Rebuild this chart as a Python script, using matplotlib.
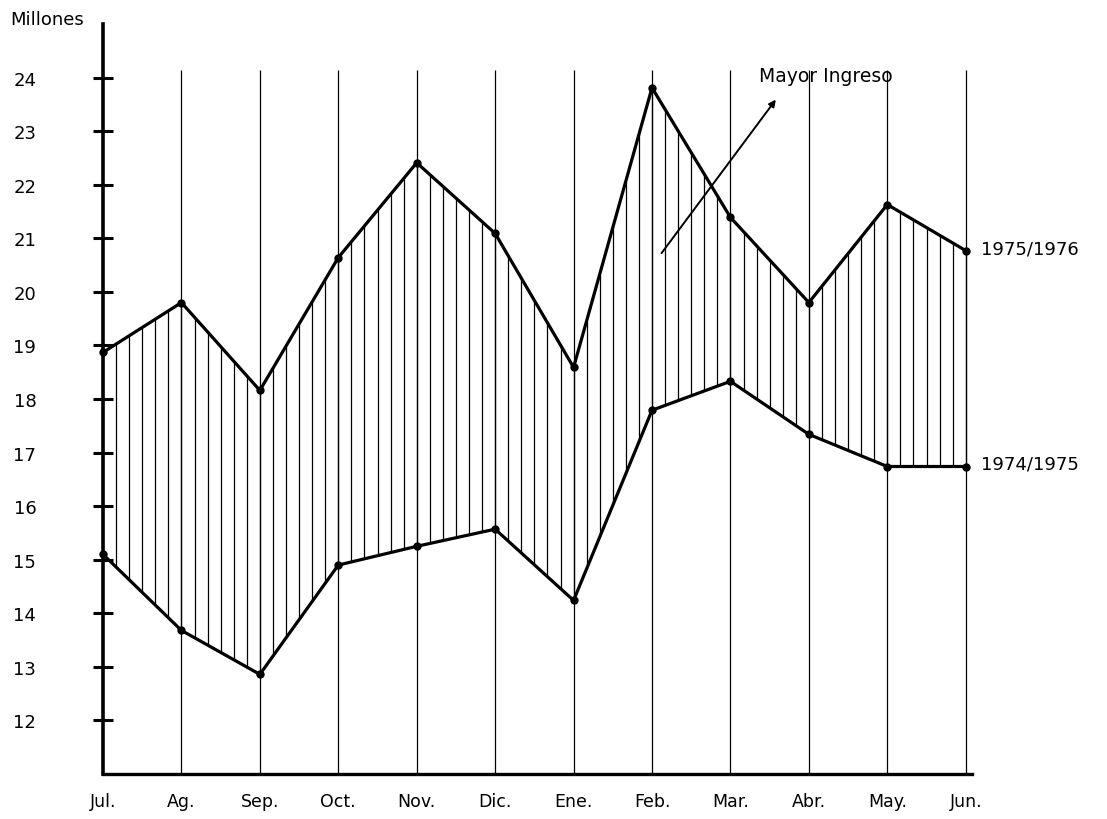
import numpy as np
import matplotlib.pyplot as plt

# Ingresos mensuales (millones)
meses = ['Jul.', 'Ag.', 'Sep.', 'Oct.', 'Nov.', 'Dic.', 'Ene.', 'Feb.', 'Mar.', 'Abr.', 'May.', 'Jun.']
ingreso_7576 = [18.87, 19.80, 18.16, 20.64, 22.41, 21.09, 18.59, 23.81, 21.39, 19.80, 21.63, 20.77]
ingreso_7475 = [15.10, 13.68, 12.86, 14.90, 15.25, 15.57, 14.24, 17.79, 18.33, 17.34, 16.74, 16.74]
y_ticks = list(range(12, 25))

x = np.arange(len(meses))

fig = plt.figure(figsize=(11.07, 8.2), dpi=100)
ax = fig.add_axes([103 / 1107, 1 - 775 / 820, 869 / 1107, 750 / 820])
ax.set_xlim(0, 11.08)
ax.set_ylim(11, 25)

# lineas verticales de cada mes
ax.vlines(x[1:], 11, 24.15, color='black', lw=0.9)

# rayado entre las dos curvas
xs = np.arange(0, 11 + 1e-9, 1 / 6)
ax.vlines(xs, np.interp(xs, x, ingreso_7475), np.interp(xs, x, ingreso_7576),
          color='black', lw=0.9)

ax.plot(x, ingreso_7576, color='black', lw=2.3, marker='o', ms=5, clip_on=False)
ax.plot(x, ingreso_7475, color='black', lw=2.3, marker='o', ms=5, clip_on=False)

for s in ['top', 'right']:
    ax.spines[s].set_visible(False)
ax.spines['left'].set_linewidth(2.6)
ax.spines['bottom'].set_linewidth(2.4)

ax.set_yticks(y_ticks)
ax.set_yticklabels([str(v) for v in y_ticks], fontsize=13)
ax.tick_params(axis='y', direction='inout', length=14, width=2.2, pad=41)
ax.set_xticks(x)
ax.set_xticklabels(meses, fontsize=12.5)
ax.tick_params(axis='x', length=0, pad=13)

fig.text(10 / 1107, 1 - 20 / 820, 'Millones', fontsize=13, va='center')
ax.text(11.2, 20.8, '1975/1976', fontsize=13, va='center')
ax.text(11.2, 16.8, '1974/1975', fontsize=13, va='center')

ax.text(8.37, 24.04, 'Mayor Ingreso', fontsize=13.5, va='center')
ax.annotate('', xy=(8.6, 23.63), xytext=(7.1, 20.68),
            arrowprops=dict(arrowstyle='-|>', color='black', lw=1.4))

plt.savefig('out.png', dpi=100)
